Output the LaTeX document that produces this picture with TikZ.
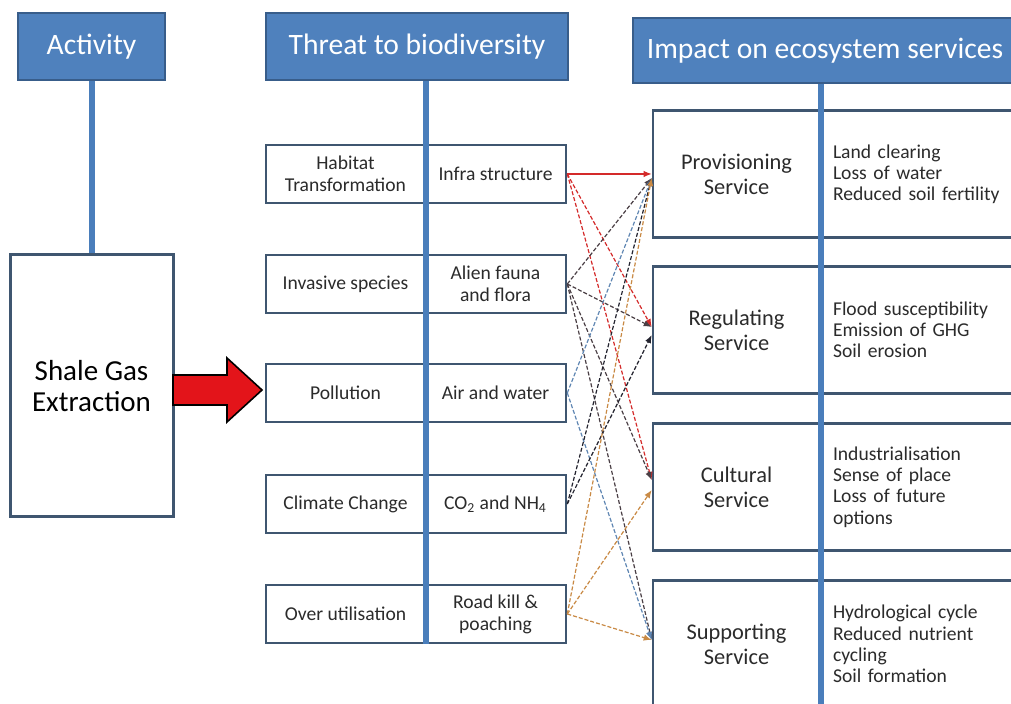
\documentclass[tikz,border=0pt]{standalone}
\usepackage{fontspec}
\setmainfont{Carlito}
\usetikzlibrary{calc,arrows.meta}

\definecolor{hdrfill}{HTML}{4F81BD}
\definecolor{hdrline}{HTML}{385D8A}
\definecolor{barblue}{HTML}{4A7EBB}
\definecolor{cellline}{HTML}{3F5670}
\definecolor{txt}{HTML}{2B2B2B}
\definecolor{ared}{HTML}{E3141A}
\definecolor{cinfra}{HTML}{D42A2A}
\definecolor{calien}{HTML}{4A3F45}
\definecolor{cair}{HTML}{5F86B3}
\definecolor{cco}{HTML}{23232F}
\definecolor{croad}{HTML}{C98A45}

\begin{document}
\begin{tikzpicture}[x=0.5pt,y=-0.5pt,
  hdr/.style={draw=hdrline,line width=1pt,fill=hdrfill,text=white,inner sep=0pt,font=\fontsize{14.8pt}{17pt}\selectfont},
  cell/.style={draw=cellline,line width=1.3pt,fill=white,text=txt,inner sep=0pt,align=center},
  rowtxt/.style={cell,minimum height=29pt,font=\fontsize{9.8pt}{11pt}\selectfont},
  svc/.style={cell,minimum height=63.5pt,minimum width=83.5pt,font=\fontsize{11.2pt}{12.6pt}\selectfont},
  lst/.style={cell,minimum height=63.5pt,text width=85pt,inner xsep=6.5pt,align=left,font=\fontsize{9.8pt}{10.6pt}\selectfont},
  bar/.style={draw=barblue,line width=3pt},
  con/.style={line width=0.6pt,dash pattern=on 2pt off 1pt,-{Latex[length=4pt,width=3.2pt]}}]
  \path[use as bounding box,fill=white] (0,0) rectangle (1011,704);
  % headings
  \node[hdr,minimum width=73.5pt,minimum height=33.5pt] (act) at (91.5,46.5) {Activity};
  \node[hdr,minimum width=151pt,minimum height=33.5pt] (thr) at (417,46.5) {Threat to biodiversity};
  \node[hdr,minimum width=192pt,minimum height=32.5pt] (imp) at (825,50.5) {Impact on ecosystem services};
  % activity
  \node[cell,line width=1.5pt,minimum width=81.5pt,minimum height=131pt,text=black,font=\fontsize{14.5pt}{15.5pt}\selectfont] (shale) at (91.5,386) {Shale Gas\\Extraction};
  % threats
  \foreach \n/\y/\a/\b in {1/174/{Habitat\\Transformation}/{Infra structure},
      2/284/{Invasive species}/{Alien fauna\\and flora},
      3/393/{Pollution}/{Air and water},
      4/504/{Climate Change}/{CO\textsubscript{2} and NH\textsubscript{4}},
      5/614/{Over utilisation}/{Road kill \&\\poaching}}
    {\node[rowtxt,minimum width=79.5pt] (l\n) at (345.5,\y) {\a};
     \node[rowtxt,minimum width=70.5pt] (r\n) at (495.5,\y) {\b};}
  % services
  \foreach \n/\y/\a/\b in {1/174/{Provisioning\\Service}/{Land clearing\\Loss of water\\Reduced soil fertility},
      2/330/{Regulating\\Service}/{Flood susceptibility\\Emission of GHG\\Soil erosion},
      3/487/{Cultural\\Service}/{Industrialisation\\Sense of place\\Loss of future\\options},
      4/644/{Supporting\\Service}/{Hydrological cycle\\Reduced nutrient\\cycling\\Soil formation}}
    {\node[svc] (s\n) at (736.5,\y) {\a};
     \node[lst] (e\n) at (918,\y) {\b};}
  % stems
  \draw[bar] (act.south) -- (shale.north);
  \draw[bar] (l1.east |- thr.south) -- (l5.south east);
  \draw[bar] (s1.east |- imp.south) -- (s4.south east);
  % big arrow
  \draw[fill=ared,line width=0.8pt] (173,375) -- (227,375) -- (227,358) -- (262,390)
    -- (227,422) -- (227,405) -- (173,405) -- cycle;
  % links threat -> service
  \draw[con,solid,cinfra] (r1.east) -- (s1.west);
  \foreach \s/\t/\dy/\c in {r1/s2/-3/cinfra, r1/s3/-7/cinfra,
      r2/s1/4/calien, r2/s2/-3/calien, r2/s3/-7/calien, r2/s4/-4/calien,
      r3/s1/4/cair, r3/s4/-4/cair,
      r4/s1/4/cco, r4/s2/5/cco,
      r5/s1/4/croad, r5/s3/3/croad, r5/s4/-4/croad}
    \draw[con,\c] (\s.east) -- ($(\t.west)+(0,\dy)$);
\end{tikzpicture}
\end{document}
